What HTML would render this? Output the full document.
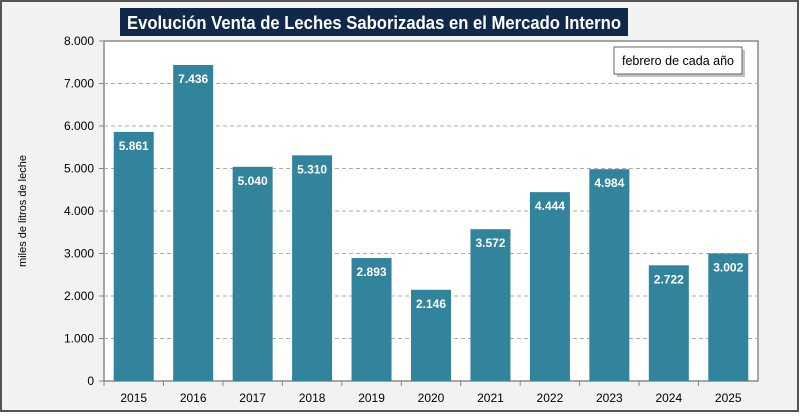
<!DOCTYPE html>
<html><head><meta charset="utf-8"><style>
body{margin:0;width:800px;height:413px;overflow:hidden;background:#fff;font-family:"Liberation Sans",sans-serif}
</style></head><body>
<svg width="800" height="413" xmlns="http://www.w3.org/2000/svg">
<rect x="1" y="1" width="797" height="410" fill="#f2f2f2" stroke="#555" stroke-width="2"/>
<rect x="104" y="41" width="654" height="340" fill="#fff" stroke="#8a8a8a" stroke-width="1.5"/>
<g id="grid"></g><g id="bars"></g><g id="axes"></g>
<rect x="120" y="8" width="508" height="28" fill="#10284a"/>
<text x="374" y="29" text-anchor="middle" font-size="18" font-weight="bold" fill="#fff" textLength="494" lengthAdjust="spacingAndGlyphs">Evolución Venta de Leches Saborizadas en el Mercado Interno</text>
<rect x="617" y="50" width="128" height="27" fill="#888" opacity="0.5"/>
<rect x="614" y="47" width="128" height="27" fill="#fff" stroke="#666"/>
<text x="678" y="65" text-anchor="middle" font-size="12.5" fill="#000" textLength="112" lengthAdjust="spacingAndGlyphs">febrero de cada año</text>
<text transform="translate(26,211) rotate(-90)" text-anchor="middle" font-size="11" fill="#000" textLength="112" lengthAdjust="spacingAndGlyphs">miles de litros de leche</text>
</svg>
<script>
const categories=["2015","2016","2017","2018","2019","2020","2021","2022","2023","2024","2025"];
const values=[5861,7436,5040,5310,2893,2146,3572,4444,4984,2722,3002];
const valueLabels=["5.861","7.436","5.040","5.310","2.893","2.146","3.572","4.444","4.984","2.722","3.002"];
const yTicks=[0,1000,2000,3000,4000,5000,6000,7000,8000];
const yTickLabels=["0","1.000","2.000","3.000","4.000","5.000","6.000","7.000","8.000"];
const NS="http://www.w3.org/2000/svg";
const x0=104,x1=758,yTop=41,yBot=381,yMax=8000;
const bw=(x1-x0)/categories.length;
const y=v=>yBot-(v/yMax)*(yBot-yTop);
const xc=i=>x0+bw*(i+0.5);
function mk(tag,attrs,parent){const e=document.createElementNS(NS,tag);for(const k in attrs)e.setAttribute(k,attrs[k]);document.getElementById(parent).appendChild(e);return e;}
yTicks.forEach((t,i)=>{
 if(t>0&&t<yMax){const l=mk('line',{x1:x0,x2:x1,y1:y(t),y2:y(t),stroke:'#aaa','stroke-dasharray':'4,3'},'grid');
 
 }
 const tk=mk('line',{x1:x0-5,x2:x0,y1:y(t),y2:y(t),stroke:'#888'},'axes');
 
 
 const tx=mk('text',{x:x0-10,y:y(t)+4,'text-anchor':'end','font-size':'12',fill:'#000'},'axes');
 tx.textContent=yTickLabels[i];
 
 
});
categories.forEach((c,i)=>{
 const w=40;
 const r=mk('rect',{x:xc(i)-w/2,y:y(values[i]),width:w,height:yBot-y(values[i]),fill:'#31849b'},'bars');
 
 
 const vl=mk('text',{x:xc(i),y:y(values[i])+18,'text-anchor':'middle','font-size':'12','font-weight':'bold',fill:'#fff'},'bars');
 vl.textContent=valueLabels[i];
 
 
 const xl=mk('text',{x:xc(i),y:402,'text-anchor':'middle','font-size':'12',fill:'#000'},'axes');
 xl.textContent=c;
 
 
 const tk=mk('line',{x1:x0+bw*i,x2:x0+bw*i,y1:yBot,y2:yBot+5,stroke:'#888'},'axes');
 
 
});
</script>
</body></html>
